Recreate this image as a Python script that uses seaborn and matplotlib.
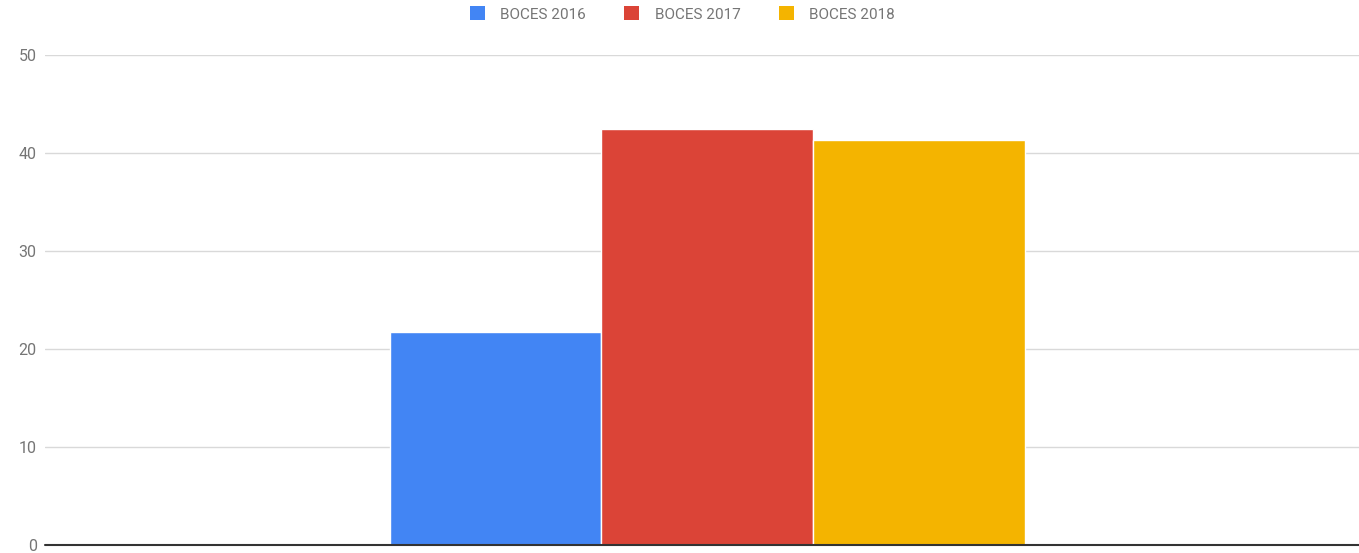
import matplotlib
matplotlib.use("Agg")
import matplotlib.pyplot as plt
import seaborn as sns
import pandas as pd
from matplotlib.patches import Patch

categories = [""]
series = ["BOCES 2016", "BOCES 2017", "BOCES 2018"]
values = [21.7, 42.5, 41.3]
colors = ["#4285F4", "#DB4437", "#F4B400"]
yticks = [0, 10, 20, 30, 40, 50]

df = pd.DataFrame({
    "cat": categories * len(series),
    "series": series,
    "value": values,
})

sns.set_theme(style="white")
plt.rcParams["font.family"] = ["Roboto", "DejaVu Sans"]

fig = plt.figure(figsize=(13.59, 5.53), dpi=100)
ax = fig.add_axes([45 / 1359, 8 / 553, 1314 / 1359, 490 / 553])

sns.barplot(data=df, x="cat", y="value", hue="series", palette=colors,
            width=0.483, saturation=1, edgecolor="white", linewidth=1,
            ax=ax, legend=False)

ax.set_xlim(-0.504, 0.496)
ax.set_ylim(0, 50)
ax.set_yticks(yticks)
ax.set_yticklabels([str(t) for t in yticks])
ax.tick_params(axis="y", length=0, pad=6, labelsize=11.5, labelcolor="#757575")
ax.tick_params(axis="x", length=0, labelbottom=False)
ax.set_xlabel("")
ax.set_ylabel("")
for s in ax.spines.values():
    s.set_visible(False)
ax.yaxis.grid(True, color="#d9d9d9", linewidth=1)
ax.set_axisbelow(True)
ax.axhline(0, color="#333333", linewidth=1.5, zorder=5, clip_on=False)

handles = [Patch(facecolor=c, edgecolor="none") for c in colors]
leg = fig.legend(handles, series, loc="center", bbox_to_anchor=(0.502, 1 - 14 / 553),
                 ncol=3, frameon=False, fontsize=11, handlelength=1.0, handleheight=1.0,
                 handletextpad=1.0, columnspacing=2.5, borderaxespad=0)
for t in leg.get_texts():
    t.set_color("#757575")

fig.savefig("out.png", dpi=100)
